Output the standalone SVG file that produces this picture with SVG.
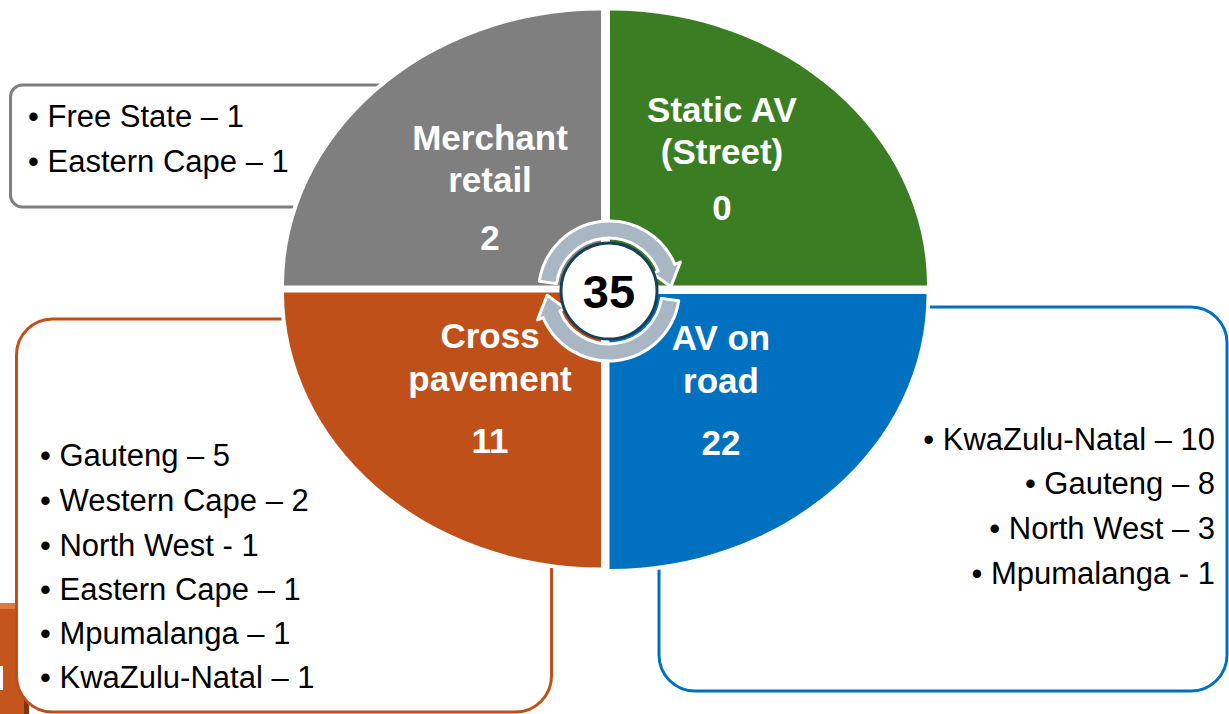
<svg xmlns="http://www.w3.org/2000/svg" width="1229" height="714" viewBox="0 0 1229 714">
<style>
.box{fill:#fff;stroke-width:3}
.q{stroke:#fff;stroke-width:8;paint-order:stroke fill;stroke-linejoin:miter}
.lbl{font-family:"Liberation Sans",Arial,sans-serif;font-weight:bold;font-size:35px;fill:#fff;text-anchor:middle}
.li{font-family:"Liberation Sans",Arial,sans-serif;font-size:31px;fill:#000}
.arr{fill:#A9B6C4;stroke:#fff;stroke-width:3;stroke-linejoin:round}
</style>
<rect width="1229" height="714" fill="#fff"/>
<g id="tab">
<rect x="-5" y="603" width="34" height="115" fill="#C4551C"/>
<polygon points="-5,603 29,603 24,609 -5,609" fill="#DC7A40"/>
<polygon points="29,603 29,714 24,714 24,609" fill="#7E3410"/>
<rect x="0" y="666" width="3" height="24" fill="#fff"/>
</g>
<g id="box-merchant">
<rect class="box" x="10.5" y="85" width="420" height="122" rx="12" stroke="#7F7F7F"/>
<text class="li" x="28" y="127">• Free State – 1</text>
<text class="li" x="28" y="172">• Eastern Cape – 1</text>
</g>
<g id="box-cross">
<rect class="box" x="16.5" y="319" width="535" height="393" rx="36" stroke="#C0501A"/>
<text class="li" x="40" y="466">• Gauteng – 5</text>
<text class="li" x="40" y="511">• Western Cape – 2</text>
<text class="li" x="40" y="556">• North West - 1</text>
<text class="li" x="40" y="600">• Eastern Cape – 1</text>
<text class="li" x="40" y="644">• Mpumalanga – 1</text>
<text class="li" x="40" y="688">• KwaZulu-Natal – 1</text>
</g>
<g id="box-avroad">
<rect class="box" x="659" y="307" width="568" height="384" rx="36" stroke="#0070C0"/>
<text class="li" x="1215" y="450" text-anchor="end">• KwaZulu-Natal – 10</text>
<text class="li" x="1215" y="494" text-anchor="end">• Gauteng – 8</text>
<text class="li" x="1215" y="539" text-anchor="end">• North West – 3</text>
<text class="li" x="1215" y="584" text-anchor="end">• Mpumalanga - 1</text>
</g>
<g id="q-merchant">
<path class="q" d="M601,285.5 L284,285.5 A317,275 0 0 1 601,10.5 Z" fill="#7F7F7F"/>
<text class="lbl" x="490" y="150">Merchant</text>
<text class="lbl" x="490" y="192">retail</text>
<text class="lbl" x="490" y="250">2</text>
</g>
<g id="q-static">
<path class="q" d="M610,285.5 L610,10.5 A317,275 0 0 1 927,285.5 Z" fill="#3A7D23"/>
<text class="lbl" x="722" y="122">Static AV</text>
<text class="lbl" x="722" y="164">(Street)</text>
<text class="lbl" x="722" y="220">0</text>
</g>
<g id="q-cross">
<path class="q" d="M601,292.5 L601,567.5 A317,275 0 0 1 284,292.5 Z" fill="#C0501A"/>
<text class="lbl" x="490" y="348">Cross</text>
<text class="lbl" x="490" y="391">pavement</text>
<text class="lbl" x="490" y="453">11</text>
</g>
<g id="q-avroad">
<path class="q" d="M609.5,294 L926.5,294 A317,275 0 0 1 609.5,569 Z" fill="#0070C0"/>
<text class="lbl" x="721" y="350">AV on</text>
<text class="lbl" x="721" y="393">road</text>
<text class="lbl" x="721" y="455">22</text>
</g>
<g id="connectors">
<path class="arr" d="M539.28,281.21 A71,71 0 0 1 674.83,264.40 L680.40,262.15 L670.85,286.67 L652.58,273.39 L658.14,271.15 A53,53 0 0 0 556.52,283.62 Z"/>
<path class="arr" d="M678.72,300.79 A71,71 0 0 1 543.17,317.60 L537.60,319.85 L547.15,295.33 L565.42,308.61 L559.86,310.85 A53,53 0 0 0 661.48,298.38 Z"/>
</g>
<g id="total">
<circle cx="609" cy="291" r="48" fill="#fff" stroke="#173F57" stroke-width="3"/>
<text x="609" y="308" font-family="Liberation Sans,Arial,sans-serif" font-weight="bold" font-size="47" fill="#000" text-anchor="middle">35</text>
</g>
</svg>
